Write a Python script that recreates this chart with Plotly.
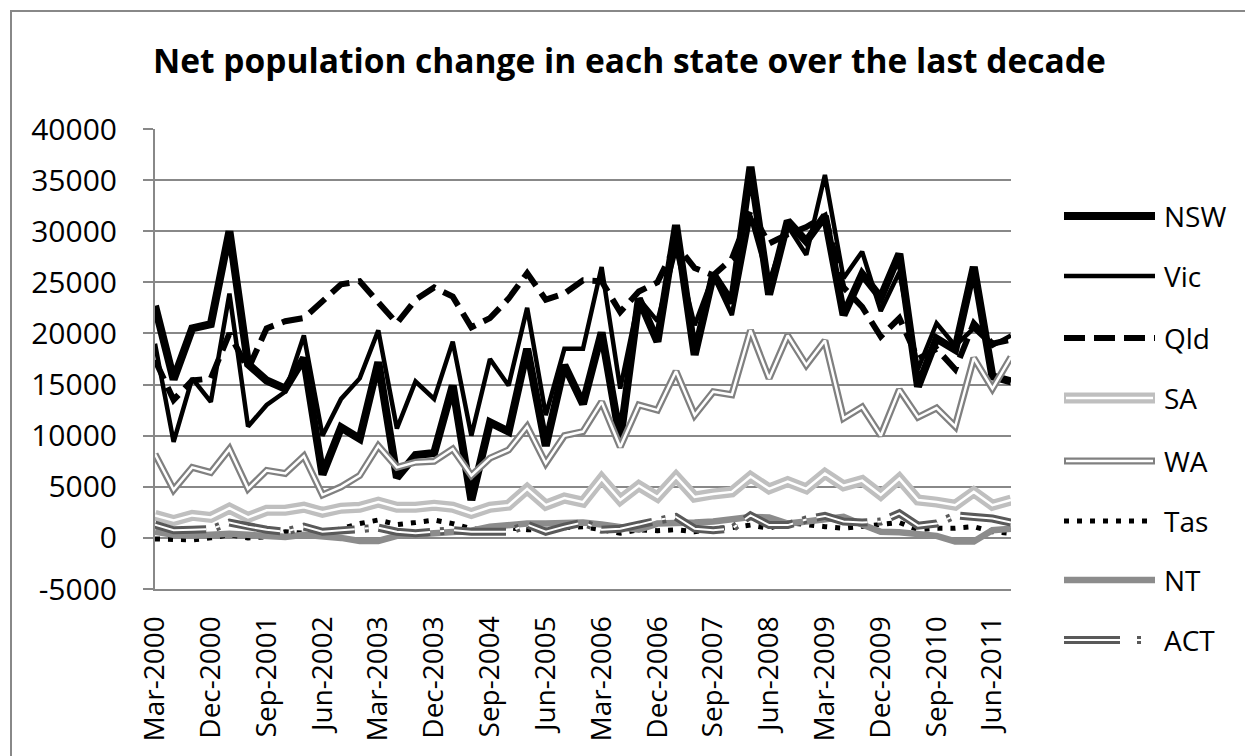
import plotly.graph_objects as go

quarters = [
    "Mar-2000", "Jun-2000", "Sep-2000", "Dec-2000",
    "Mar-2001", "Jun-2001", "Sep-2001", "Dec-2001",
    "Mar-2002", "Jun-2002", "Sep-2002", "Dec-2002",
    "Mar-2003", "Jun-2003", "Sep-2003", "Dec-2003",
    "Mar-2004", "Jun-2004", "Sep-2004", "Dec-2004",
    "Mar-2005", "Jun-2005", "Sep-2005", "Dec-2005",
    "Mar-2006", "Jun-2006", "Sep-2006", "Dec-2006",
    "Mar-2007", "Jun-2007", "Sep-2007", "Dec-2007",
    "Mar-2008", "Jun-2008", "Sep-2008", "Dec-2008",
    "Mar-2009", "Jun-2009", "Sep-2009", "Dec-2009",
    "Mar-2010", "Jun-2010", "Sep-2010", "Dec-2010",
    "Mar-2011", "Jun-2011", "Sep-2011",
]
x_tick_labels = [
    "Mar-2000", "Dec-2000", "Sep-2001", "Jun-2002", "Mar-2003", "Dec-2003",
    "Sep-2004", "Jun-2005", "Mar-2006", "Dec-2006", "Sep-2007", "Jun-2008",
    "Mar-2009", "Dec-2009", "Sep-2010", "Jun-2011",
]
y_tick_values = [-5000, 0, 5000, 10000, 15000, 20000, 25000, 30000, 35000, 40000]
y_tick_labels = ["-5000", "0", "5000", "10000", "15000", "20000", "25000", "30000", "35000", "40000"]

nsw = [22700, 15500, 20500, 20900, 30000, 17000, 15400, 14600, 17600, 6200,
       10800, 9700, 17200, 5900, 8100, 8300, 14900, 3700, 11300, 10400,
       18500, 9000, 16900, 13100, 20100, 9600, 23400, 19200, 30600, 17900,
       25800, 23000, 36300, 23800, 31000, 29000, 31500, 21800, 25800, 23500,
       27800, 14800, 19500, 18400, 26500, 15800, 15300]
vic = [19000, 9400, 15600, 13300, 23900, 10900, 13000, 14300, 19800, 10000,
       13600, 15600, 20300, 10700, 15300, 13600, 19200, 10000, 17500, 14900,
       22500, 12000, 18500, 18500, 26500, 14600, 23400, 21200, 28300, 20800,
       25700, 21800, 31500, 25000, 30500, 27700, 35500, 25400, 28000, 22200,
       26000, 16500, 21000, 18800, 20500, 18800, 19800]
qld = [17400, 13500, 15400, 15600, 20000, 16500, 20500, 21200, 21500, 23100,
       24800, 25100, 23100, 21000, 23300, 24500, 23600, 20600, 21500, 23400,
       25900, 23300, 23900, 25200, 25100, 22100, 24100, 25000, 28700, 26400,
       25700, 27300, 32000, 28800, 29700, 30400, 31500, 24500, 22600, 19700,
       21500, 17500, 18500, 16500, 21000, 19000, 19400]
sa = [2200, 1700, 2200, 2000, 2900, 2000, 2700, 2700, 3000, 2500,
      2900, 3000, 3500, 3000, 3000, 3200, 3000, 2400, 3000, 3200,
      4800, 3200, 3900, 3500, 5800, 3700, 5100, 4000, 6000, 4000,
      4300, 4500, 6000, 4800, 5500, 4800, 6300, 5100, 5600, 4200,
      5800, 3700, 3500, 3200, 4500, 3200, 3700]
wa = [8200, 4700, 6900, 6400, 8700, 4800, 6600, 6300, 8000, 4200,
      5000, 6100, 9000, 6900, 7400, 7500, 8700, 6100, 7800, 8600,
      10900, 7300, 10000, 10400, 13300, 8900, 13000, 12500, 16300, 12000,
      14300, 14000, 20300, 15600, 19800, 16900, 19300, 11700, 12800, 10000,
      14500, 11800, 12700, 10900, 17600, 14600, 17700]
tas = [-100, -200, -200, 0, 300, 0, 100, 600, 400, 300,
       900, 1400, 1750, 1300, 1500, 1750, 1400, 900, 700, 1000,
       800, 800, 1000, 1100, 800, 450, 800, 700, 800, 600,
       900, 1000, 1250, 950, 1500, 1250, 1100, 950, 1100, 1300,
       1500, 800, 950, 950, 1100, 600, 450]
nt = [600, 300, 200, 300, 400, 300, 200, 100, 300, 200,
      0, -300, -300, 200, 300, 400, 500, 700, 1100, 1300,
      1400, 1400, 1400, 1500, 1300, 1000, 800, 1400, 1400, 1500,
      1600, 1900, 2050, 2000, 1400, 1600, 1900, 2050, 1300, 600,
      550, 300, 200, -350, -350, 750, 900]
act = [1300, 750, 800, 850, 1500, 1100, 800, 600, 1100, 600,
       750, 900, 1000, 600, 450, 600, 750, 600, 600, 600,
       1300, 600, 1100, 1500, 800, 900, 1300, 1750, 2050, 900,
       750, 900, 2200, 1250, 1250, 1800, 2150, 1600, 1500, 1600,
       2400, 1200, 1400, 2200, 2050, 1900, 1500]

FONT = "Open Sans"
GRID = "#888888"

# plot area in pixels
L, R, T, B = 147, 1003, 121, 581
W, H = 1253, 756


def px(xp):
    return (xp - L) / (R - L)


def py(yp):
    return (B - yp) / (B - T)


ACT_DASH = "52px,10px,4px,10px"
ACT_LEG_DASH = "56px,17px,4px,40px"

# name, values, outer line, inner white line (or None), legend dash override
series = [
    ("NSW", nsw, dict(color="#000000", width=8), None, None),
    ("Vic", vic, dict(color="#000000", width=4.5), None, None),
    ("Qld", qld, dict(color="#000000", width=6, dash="21px,9px"), None, None),
    ("SA", sa, dict(color="#BFBFBF", width=11), dict(color="#FFFFFF", width=2.5), None),
    ("WA", wa, dict(color="#808080", width=7), dict(color="#FFFFFF", width=2.5), None),
    ("Tas", tas, dict(color="#000000", width=5, dash="5px,8px"), None, None),
    ("NT", nt, dict(color="#8C8C8C", width=6.5), None, None),
    ("ACT", act, dict(color="#595959", width=8, dash=ACT_DASH),
     dict(color="#FFFFFF", width=2, dash=ACT_DASH), ACT_LEG_DASH),
]

fig = go.Figure()
for name, vals, outer, inner, _ in series:
    fig.add_trace(go.Scatter(x=quarters, y=vals, mode="lines", name=name,
                             line=outer, showlegend=False, hoverinfo="skip"))
    if inner is not None:
        fig.add_trace(go.Scatter(x=quarters, y=vals, mode="lines", name=name,
                                 line=inner, showlegend=False, hoverinfo="skip"))

shapes = []
annotations = []

# custom legend
leg_y = [208, 268, 330, 390, 453, 513, 572, 632]
lx0, lx1, tx = 1056, 1147, 1154
for (name, vals, outer, inner, leg_dash), yy in zip(series, leg_y):
    d_out = leg_dash or outer.get("dash", "solid")
    shapes.append(dict(type="line", xref="paper", yref="paper",
                       x0=px(lx0), x1=px(lx1), y0=py(yy), y1=py(yy),
                       line=dict(color=outer["color"], width=outer["width"], dash=d_out)))
    if inner is not None:
        d_in = leg_dash or inner.get("dash", "solid")
        off = 0 if leg_dash else 2
        shapes.append(dict(type="line", xref="paper", yref="paper",
                           x0=px(lx0 + off), x1=px(lx1 - off), y0=py(yy), y1=py(yy),
                           line=dict(color=inner["color"], width=inner["width"], dash=d_in)))
    annotations.append(dict(xref="paper", yref="paper", x=px(tx), y=py(yy),
                            xanchor="left", yanchor="middle", text=name,
                            showarrow=False,
                            font=dict(family=FONT, size=28, color="#000000")))

# title
annotations.append(dict(xref="paper", yref="paper", x=px(621), y=py(52),
                        xanchor="center", yanchor="middle",
                        text="<b>Net population change in each state over the last decade</b>",
                        showarrow=False,
                        font=dict(family=FONT, size=33.5, color="#000000")))

# outer chart border
shapes.append(dict(type="rect", xref="paper", yref="paper",
                   x0=px(3), x1=px(W - 4), y0=py(3), y1=py(H - 4),
                   line=dict(color=GRID, width=2), fillcolor="rgba(0,0,0,0)",
                   layer="below"))

fig.update_layout(
    width=W, height=H,
    margin=dict(l=L, r=W - R, t=T, b=H - B, pad=0),
    paper_bgcolor="#FFFFFF", plot_bgcolor="#FFFFFF",
    showlegend=False,
    shapes=shapes, annotations=annotations,
    font=dict(family=FONT, size=28, color="#000000"),
)
fig.update_xaxes(
    type="category", categoryorder="array", categoryarray=quarters,
    range=[0, len(quarters) - 1], showgrid=False, zeroline=False,
    showline=True, linecolor=GRID, linewidth=2, ticks="",
    tickmode="array", tickvals=x_tick_labels, ticktext=x_tick_labels,
    tickangle=-90, tickfont=dict(family=FONT, size=28, color="#000000"),
    automargin=False, ticklabelstandoff=14,
)
fig.update_yaxes(
    range=[-5000, 40000], showgrid=True, gridcolor=GRID, gridwidth=2,
    zeroline=False, showline=True, linecolor=GRID, linewidth=2,
    ticks="outside", ticklen=10, tickcolor=GRID, tickwidth=2,
    tickmode="array", tickvals=y_tick_values, ticktext=y_tick_labels,
    tickfont=dict(family=FONT, size=30, color="#000000"),
    automargin=False, ticklabelstandoff=20,
)

fig.write_html("out.html")
